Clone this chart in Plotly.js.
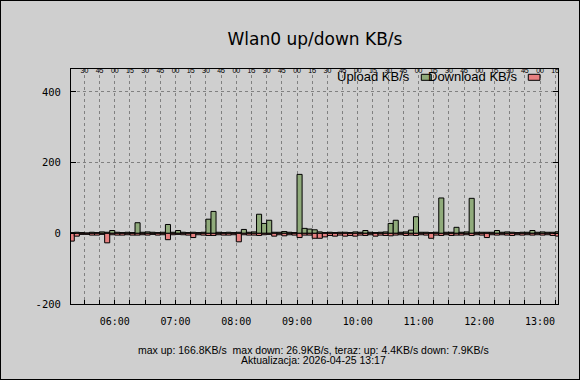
<!DOCTYPE html>
<html>
<head>
<meta charset="utf-8">
<script src="https://cdn.plot.ly/plotly-3.0.1.min.js"></script>
<style>
html,body{margin:0;padding:0;background:#cfcfcf;}
#chart{width:578px;height:378px;border:1px solid #000;}
</style>
</head>
<body>
<div id="chart"></div>
<script>
var day = "2026-04-25";
var times = ["05:15","05:20","05:25","05:30","05:35","05:40","05:45","05:50","05:55",
"06:00","06:05","06:10","06:15","06:20","06:25","06:30","06:35","06:40","06:45","06:50","06:55",
"07:00","07:05","07:10","07:15","07:20","07:25","07:30","07:35","07:40","07:45","07:50","07:55",
"08:00","08:05","08:10","08:15","08:20","08:25","08:30","08:35","08:40","08:45","08:50","08:55",
"09:00","09:05","09:10","09:15","09:20","09:25","09:30","09:35","09:40","09:45","09:50","09:55",
"10:00","10:05","10:10","10:15","10:20","10:25","10:30","10:35","10:40","10:45","10:50","10:55",
"11:00","11:05","11:10","11:15","11:20","11:25","11:30","11:35","11:40","11:45","11:50","11:55",
"12:00","12:05","12:10","12:15","12:20","12:25","12:30","12:35","12:40","12:45","12:50","12:55",
"13:00","13:05","13:10","13:15"];
var upload = [2,3,2,1,3,2,4,3,8,
3,2,3,2,30,3,4,3,2,3,25,3,
8,3,2,3,2,3,40,62,3,2,3,2,
3,11,3,4,54,28,37,3,3,5,3,2,
166.8,14,12,10,4,2,3,2,3,3,2,4,
3,8,3,2,3,4,28,37,3,4,9,47,
3,3,2,3,100,3,3,17,3,4,99,3,
3,3,3,8,3,4,3,2,3,3,8,3,
4,3,3,4.4];
var download = [-22,-8,-3,-3,-5,-5,-3,-26.9,-4,
-5,-5,-4,-5,-5,-4,-5,-3,-5,-4,-18,-4,
-3,-4,-5,-12,-4,-5,-6,-6,-4,-5,-5,-4,
-24,-4,-5,-5,-6,-4,-3,-8,-4,-7,-4,-5,
-12,-5,-5,-14,-14,-10,-6,-8,-5,-8,-6,-8,
-5,-6,-4,-8,-5,-6,-7,-5,-4,-6,-5,-6,
-4,-5,-14,-5,-6,-4,-6,-5,-5,-4,-6,-4,
-5,-12,-4,-5,-4,-5,-6,-4,-5,-4,-5,-4,
-5,-4,-6,-7.9];
var yTicks = [-200, 0, 200, 400];
var titleText = "Wlan0 up/down KB/s";
var upName = "Upload KB/s";
var downName = "Download KB/s";
var footer1 = "max up: 166.8KB/s  max down: 26.9KB/s, teraz: up: 4.4KB/s down: 7.9KB/s";
var footer2 = "Aktualizacja: 2026-04-25 13:17";

var xs = times.map(function(t){ return day + " " + t; });
var BW = 5*60*1000;
var green = "#90ab7b", red = "#e88080";
var gridc = "#808080";

var traces = [
  {type:"bar", x:xs, y:upload, name:upName, xaxis:"x", yaxis:"y",
   width:BW, offset:0, marker:{color:green, line:{color:"#000", width:1}}, hoverinfo:"skip"},
  {type:"bar", x:xs, y:download, name:downName, xaxis:"x2", yaxis:"y",
   width:BW, offset:0, marker:{color:red, line:{color:"#000", width:1}}, hoverinfo:"skip"}
];

var tickFont = {family:"DejaVu Sans Mono", size:10.5, color:"#000"};
var layout = {
  width:578, height:378,
  margin:{l:70, r:21, t:68, b:75, pad:0},
  paper_bgcolor:"#cfcfcf", plot_bgcolor:"#cfcfcf",
  showlegend:false, barmode:"overlay", bargap:0,
  title:{text:titleText, font:{family:"DejaVu Sans", size:17, color:"#000"},
         xref:"paper", x:0.501, xanchor:"center", yref:"container", y:0.8995, yanchor:"middle"},
  xaxis:{type:"date", range:[day+" 05:16:45", day+" 13:17:45"],
    tick0:day+" 06:00", dtick:3600000, tickformat:"%H:%M",
    ticks:"inside", ticklen:4, tickcolor:"#000", tickfont:{family:"DejaVu Sans Mono", size:10, color:"#000"},
    ticklabelstandoff:8,
    showline:true, linecolor:"#000", linewidth:1, mirror:true,
    showgrid:true, gridcolor:gridc, griddash:"3px,3px", gridwidth:1,
    minor:{dtick:900000, tick0:day+" 06:00", ticks:"inside", ticklen:4, tickcolor:"#000",
           showgrid:true, gridcolor:gridc, griddash:"3px,3px", gridwidth:1},
    zeroline:false, fixedrange:true},
  xaxis2:{type:"date", overlaying:"x", matches:"x", side:"top", anchor:"y",
    tick0:day+" 06:00", dtick:900000, tickformat:"%M",
    ticks:"", tickfont:{family:"Liberation Sans", size:7, color:"#000000"},
    ticklabelstandoff:-6, showgrid:false, showline:false, zeroline:false},
  yaxis:{range:[-200, 465], tickvals:yTicks, ticktext:yTicks.map(String),
    ticks:"inside", ticklen:5, tickcolor:"#000", tickfont:tickFont,
    ticklabelstandoff:7,
    showline:true, linecolor:"#000", linewidth:1, mirror:"ticks",
    showgrid:true, gridcolor:gridc, griddash:"3px,3px", gridwidth:1,
    zeroline:false, fixedrange:true},
  annotations:[
    {text:upName, xref:"paper", yref:"paper", x:0.6996, y:0.968, xanchor:"right", yanchor:"middle",
     showarrow:false, font:{family:"Liberation Sans", size:13, color:"#000"}},
    {text:downName, xref:"paper", yref:"paper", x:0.9199, y:0.968, xanchor:"right", yanchor:"middle",
     showarrow:false, font:{family:"Liberation Sans", size:13, color:"#000"}},
    {text:footer1, xref:"paper", yref:"paper", x:0.497, y:-0.1957, xanchor:"center", yanchor:"middle",
     showarrow:false, font:{family:"Liberation Sans", size:10.5, color:"#000"}},
    {text:footer2, xref:"paper", yref:"paper", x:0.497, y:-0.2362, xanchor:"center", yanchor:"middle",
     showarrow:false, font:{family:"Liberation Sans", size:10.5, color:"#000"}}
  ],
  shapes:[
    {type:"rect", xref:"paper", yref:"paper", x0:0.7193, x1:0.7398, y0:0.9519, y1:0.9774,
     fillcolor:green, line:{color:"#000", width:1}},
    {type:"rect", xref:"paper", yref:"paper", x0:0.939, x1:0.963, y0:0.9519, y1:0.9774,
     fillcolor:red, line:{color:"#000", width:1}}
  ]
};
Plotly.newPlot("chart", traces, layout, {staticPlot:true, displayModeBar:false});
</script>
</body>
</html>
